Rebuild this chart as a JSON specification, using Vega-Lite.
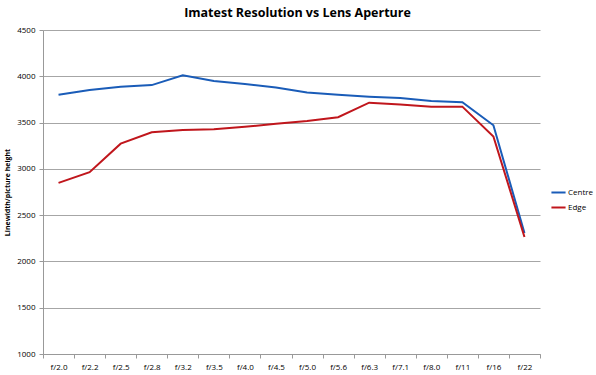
{
  "$schema": "https://vega.github.io/schema/vega-lite/v6.json",
  "autosize": {"type": "none"},
  "padding": {"left": 43, "top": 30, "right": 56, "bottom": 21},
  "width": 497,
  "height": 324,
  "background": "white",
  "title": {
    "text": "Imatest Resolution vs Lens Aperture",
    "font": "Open Sans",
    "fontSize": 12.5,
    "fontWeight": "bold",
    "color": "#000000",
    "anchor": "middle",
    "dx": 6,
    "offset": 7
  },
  "config": {
    "view": {"stroke": null},
    "font": "Open Sans"
  },
  "data": {
    "values": [
      {"aperture": "f/2.0", "series": "Centre", "value": 3800},
      {"aperture": "f/2.2", "series": "Centre", "value": 3852},
      {"aperture": "f/2.5", "series": "Centre", "value": 3886},
      {"aperture": "f/2.8", "series": "Centre", "value": 3905},
      {"aperture": "f/3.2", "series": "Centre", "value": 4010},
      {"aperture": "f/3.5", "series": "Centre", "value": 3950},
      {"aperture": "f/4.0", "series": "Centre", "value": 3917},
      {"aperture": "f/4.5", "series": "Centre", "value": 3880},
      {"aperture": "f/5.0", "series": "Centre", "value": 3826},
      {"aperture": "f/5.6", "series": "Centre", "value": 3800},
      {"aperture": "f/6.3", "series": "Centre", "value": 3780},
      {"aperture": "f/7.1", "series": "Centre", "value": 3765},
      {"aperture": "f/8.0", "series": "Centre", "value": 3733},
      {"aperture": "f/11", "series": "Centre", "value": 3720},
      {"aperture": "f/16", "series": "Centre", "value": 3471},
      {"aperture": "f/22", "series": "Centre", "value": 2307},
      {"aperture": "f/2.0", "series": "Edge", "value": 2848},
      {"aperture": "f/2.2", "series": "Edge", "value": 2964},
      {"aperture": "f/2.5", "series": "Edge", "value": 3272},
      {"aperture": "f/2.8", "series": "Edge", "value": 3395},
      {"aperture": "f/3.2", "series": "Edge", "value": 3420},
      {"aperture": "f/3.5", "series": "Edge", "value": 3428},
      {"aperture": "f/4.0", "series": "Edge", "value": 3455},
      {"aperture": "f/4.5", "series": "Edge", "value": 3486},
      {"aperture": "f/5.0", "series": "Edge", "value": 3518},
      {"aperture": "f/5.6", "series": "Edge", "value": 3558},
      {"aperture": "f/6.3", "series": "Edge", "value": 3715},
      {"aperture": "f/7.1", "series": "Edge", "value": 3694},
      {"aperture": "f/8.0", "series": "Edge", "value": 3672},
      {"aperture": "f/11", "series": "Edge", "value": 3672},
      {"aperture": "f/16", "series": "Edge", "value": 3350},
      {"aperture": "f/22", "series": "Edge", "value": 2264}
    ]
  },
  "mark": {"type": "line", "strokeWidth": 2},
  "encoding": {
    "x": {
      "field": "aperture",
      "type": "ordinal",
      "sort": null,
      "scale": {"type": "band", "paddingInner": 0, "paddingOuter": 0},
      "axis": {
        "title": null,
        "labelAngle": 0,
        "labelFontSize": 8,
        "labelColor": "#000000",
        "labelPadding": 5,
        "domainColor": "#999999",
        "tickColor": "#999999",
        "tickSize": 4,
        "tickBand": "extent",
        "grid": false
      }
    },
    "y": {
      "field": "value",
      "type": "quantitative",
      "scale": {"domain": [1000, 4500], "nice": false},
      "axis": {
        "title": "Linewidth/picture height",
        "titleFontSize": 7,
        "titleFontWeight": "bold",
        "titleColor": "#000000",
        "titlePadding": 6,
        "format": "d",
        "values": [1000, 1500, 2000, 2500, 3000, 3500, 4000, 4500],
        "labelFontSize": 8,
        "labelColor": "#000000",
        "labelPadding": 4,
        "domainColor": "#999999",
        "tickColor": "#999999",
        "tickSize": 4,
        "gridColor": "#a6a6a6",
        "gridWidth": 1
      }
    },
    "color": {
      "field": "series",
      "type": "nominal",
      "scale": {"domain": ["Centre", "Edge"], "range": ["#1a5cb8", "#c0161c"]},
      "legend": {
        "title": null,
        "orient": "none",
        "legendX": 507,
        "legendY": 154,
        "symbolType": "stroke",
        "symbolSize": 200,
        "symbolStrokeWidth": 2,
        "labelFontSize": 8,
        "labelColor": "#000000",
        "rowPadding": 2,
        "labelOffset": 1
      }
    }
  }
}
